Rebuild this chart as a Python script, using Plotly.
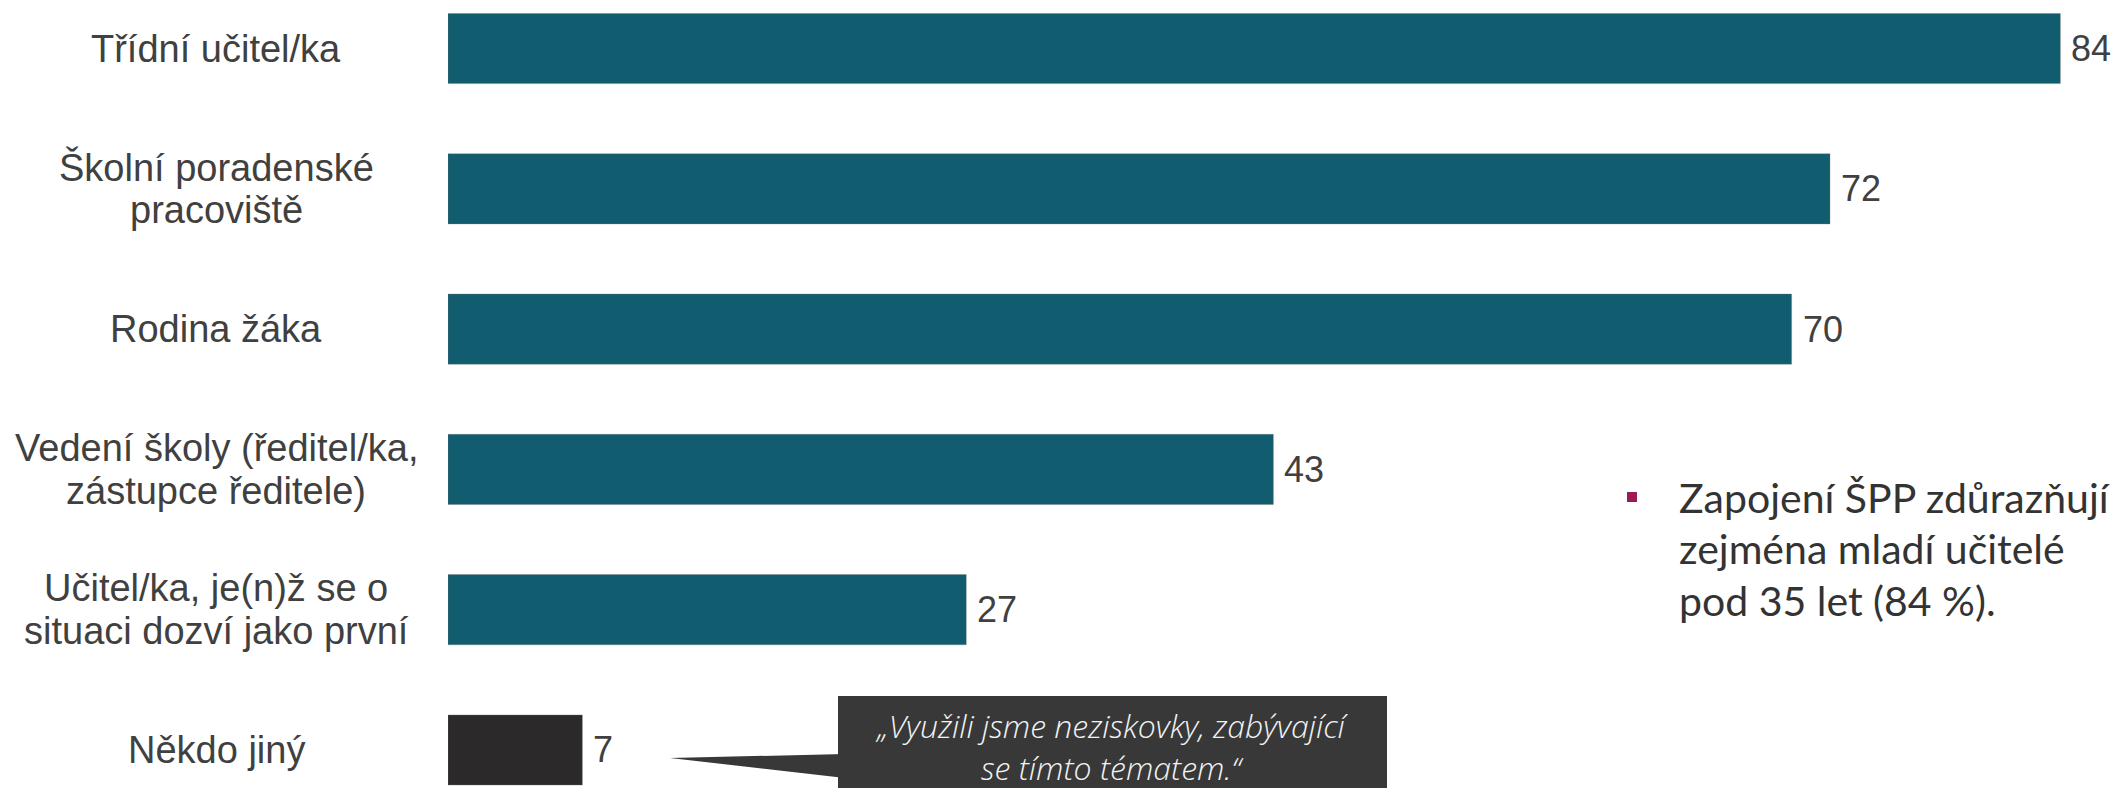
import plotly.graph_objects as go

categories = [
    "Třídní učitel/ka",
    "Školní poradenské<br>pracoviště",
    "Rodina žáka",
    "Vedení školy (ředitel/ka,<br>zástupce ředitele)",
    "Učitel/ka, je(n)ž se o<br>situaci dozví jako první",
    "Někdo jiný",
]
values = [84, 72, 70, 43, 27, 7]
bar_colors = ["#115c6e", "#115c6e", "#115c6e", "#115c6e", "#115c6e", "#2b2929"]

callout_lines = ["„Využili jsme neziskovky, zabývající", "se tímto tématem.“"]
note_lines = ["Zapojení ŠPP zdůrazňují", "zejména mladí učitelé", "pod 35 let (84 %)."]

W, H = 2116, 788
L = 448
PW = W - L


def px(x):
    return (x - L) / PW


def py(y):
    return 1 - y / H


fig = go.Figure()
fig.add_trace(go.Bar(
    orientation="h",
    y=list(range(len(categories))),
    x=values,
    width=0.5,
    marker=dict(color=bar_colors, line=dict(width=1, color="rgba(120,120,120,0.35)")),
    hoverinfo="skip",
))

label_font = dict(family="Liberation Sans, Arial", size=38, color="#404040")
annotations = []
for i, c in enumerate(categories):
    parts = c.split("<br>")
    n = len(parts)
    for k, part in enumerate(parts):
        annotations.append(dict(
            x=px(216), xref="paper", y=i, yref="y",
            yshift=(n - 1) * 21.5 - k * 43,
            text=part, showarrow=False, xanchor="center", yanchor="middle", align="center",
            font=label_font,
        ))

# value labels
for i, v in enumerate(values):
    annotations.append(dict(
        x=v, xref="x", y=i, yref="y", xshift=9,
        text=str(v), showarrow=False, xanchor="left", yanchor="middle",
        font=dict(family="Liberation Sans, Arial", size=36, color="#404040"),
    ))

# callout text
annotations.append(dict(
    x=px(1112), xref="paper", y=py(746), yref="paper",
    text="<i>" + "<br>".join(callout_lines) + "</i>", showarrow=False,
    xanchor="center", yanchor="middle", align="center",
    font=dict(family="Open Sans, Lato", size=32, color="#f2f2f2", weight=300),
))

# right note
for t, yc in zip(note_lines, [497, 548, 600]):
    annotations.append(dict(
        x=px(1677), xref="paper", y=py(yc), yref="paper",
        text=t, showarrow=False, xanchor="left", yanchor="middle",
        font=dict(family="Lato, Open Sans", size=41, color="#333333"),
    ))

shapes = [
    dict(type="rect", xref="paper", yref="paper",
         x0=px(838), x1=px(1387), y0=py(800), y1=py(696),
         fillcolor="#383838", line=dict(width=0), layer="below"),
    dict(type="path", xref="paper", yref="paper",
         path=f"M {px(670)} {py(758)} L {px(845)} {py(754)} L {px(845)} {py(778)} Z",
         fillcolor="#383838", line=dict(width=0), layer="below"),
    dict(type="rect", xref="paper", yref="paper",
         x0=px(1627), x1=px(1637), y0=py(502), y1=py(492),
         fillcolor="#9c1b57", line=dict(width=0), layer="below"),
]

fig.update_layout(
    width=W, height=H,
    margin=dict(l=L, r=0, t=0, b=0),
    paper_bgcolor="white", plot_bgcolor="white",
    showlegend=False,
    xaxis=dict(range=[0, 86.9], visible=False, fixedrange=True),
    yaxis=dict(range=[5.271, -0.346], visible=False, fixedrange=True),
    annotations=annotations,
    shapes=shapes,
)

fig.write_html(
    "out.html",
    config={"displayModeBar": False},
    post_script="document.body.style.margin='0';document.body.style.overflow='hidden';",
)
